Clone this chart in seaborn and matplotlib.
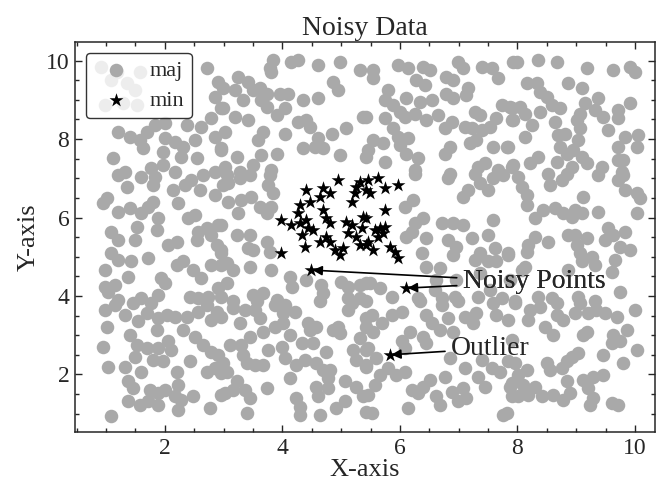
import numpy as np
import pandas as pd
import seaborn as sns
import matplotlib
matplotlib.use("Agg")
import matplotlib.pyplot as plt
from matplotlib.ticker import MultipleLocator

# majority class (gray circles)
maj_x = [
    2.71, 2.91, 2.85, 2.96, 2.79, 2.62, 2.37, 2.00, 1.83, 1.69, 1.21, 1.40, 1.57, 2.00, 2.17, 2.31, 2.51, 2.85,
    2.96, 1.63, 1.97, 2.28, 2.54, 1.12, 1.32, 1.77, 1.97, 2.17, 2.85, 0.92, 1.18, 1.57, 1.35, 1.49, 0.98, 1.29,
    1.52, 1.09,
    3.84, 3.79, 3.81, 4.15, 4.27, 4.61, 4.98, 5.32, 3.25, 3.42, 2.99, 3.19, 3.33, 3.50, 3.62, 3.73, 3.64, 3.73,
    3.96, 4.10, 4.35, 4.61, 4.86, 4.95, 2.99, 3.19, 3.42, 3.90, 4.04, 4.27, 4.41, 4.47, 4.04, 3.67, 3.59, 3.02,
    2.96, 4.61, 4.35, 4.55, 4.69, 4.84, 5.09, 4.98, 5.37, 5.43, 3.90, 3.64, 3.22, 3.50, 3.02, 3.81, 3.28,
    5.55, 5.55, 5.97, 6.14, 6.40, 6.51, 6.27, 6.43, 6.79, 6.91, 6.99, 7.08, 7.39, 7.56, 7.67, 7.93, 5.80, 5.74,
    5.89, 6.00, 6.08, 6.11, 6.34, 6.54, 6.25, 6.45, 6.65, 6.79, 6.91, 7.16, 7.13, 7.28, 7.36, 6.88, 6.77, 7.11,
    7.22, 7.39, 7.53, 7.64, 7.73, 7.90, 7.90, 5.43, 5.74, 5.89, 5.97, 6.14, 6.00, 6.11, 5.55, 5.72, 5.46, 5.74,
    6.31, 6.25, 6.85, 6.77, 7.19, 7.30, 7.59, 7.82, 7.33, 7.45, 7.67, 7.90, 6.85,
    7.99, 8.35, 8.67, 9.18, 9.63, 9.91, 10.00, 8.16, 8.33, 8.38, 8.50, 8.86, 9.09, 8.58, 8.72, 7.87, 8.04, 8.13,
    7.93, 8.38, 8.64, 9.15, 9.37, 9.32, 9.06, 9.01, 9.46, 9.71, 9.71, 9.91, 8.24, 8.13, 7.84, 8.69, 8.81, 8.72,
    9.06, 9.03, 8.95, 8.84, 9.54, 9.83, 10.05, 9.71, 10.03, 8.35, 8.21, 7.93, 8.67, 9.09, 9.18, 8.92, 9.43, 9.71,
    9.80, 9.77, 8.52,
    1.21, 1.35, 1.60, 1.83, 1.80, 2.14, 2.23, 2.34, 2.45, 2.59, 2.65, 2.85, 2.99, 1.01, 0.95, 1.21, 1.40, 1.60,
    1.72, 1.80, 1.89, 1.86, 1.52, 1.49, 1.09, 1.21, 1.09, 1.21, 1.43, 1.72, 2.06, 2.20, 2.20, 2.31, 2.40, 2.51,
    2.57, 2.71, 2.79, 2.91, 2.54, 2.88, 2.96, 2.79, 2.96, 2.48, 2.62, 2.91, 0.98, 1.38, 1.94, 2.00, 0.98, 1.15,
    1.04, 1.21, 1.60, 1.89, 2.42, 2.57, 2.74, 2.96,
    3.05, 3.28, 3.45, 3.79, 3.76, 3.84, 3.08, 3.08, 3.30, 3.47, 3.25, 3.62, 3.81, 3.73, 2.96, 3.22, 3.45, 3.73,
    3.79, 3.42, 3.50, 2.96, 3.05, 3.16, 3.05, 3.45, 3.81, 4.13, 4.16, 4.41, 3.50, 3.67, 3.90, 3.16, 4.66, 4.69,
    5.00, 5.12, 5.32, 5.43, 5.12, 5.32,
    6.25, 6.82, 7.28, 7.36, 7.50, 7.59, 7.76, 7.08, 7.16, 6.08, 6.23, 6.25, 6.40, 6.20, 6.11, 6.45, 6.71, 6.91,
    7.08, 6.82, 6.96, 6.91, 7.22, 7.50, 7.59, 7.62, 7.84, 6.37, 6.45, 6.68, 7.36, 7.27, 7.50, 7.64, 6.96, 7.36,
    5.49, 5.66, 5.86, 6.31, 6.59, 6.71, 6.93, 7.33, 7.53, 7.73, 7.87, 6.62,
    8.01, 8.07, 8.16, 8.16, 8.55, 8.75, 8.84, 9.37, 9.71, 9.80, 9.83, 10.03, 10.08, 9.12, 8.30, 8.44, 8.64, 8.78,
    8.92, 8.98, 9.09, 9.37, 10.03, 9.54, 9.63, 9.83, 9.49, 9.74, 9.91, 8.86, 8.98, 9.18, 9.01, 9.06, 9.09, 9.26,
    9.32, 8.52, 8.30, 8.18, 8.16, 7.84, 8.13, 8.07, 8.86, 9.66, 9.60, 9.74, 8.35, 8.58, 7.96, 9.03, 9.32,
    0.98, 1.15, 1.32, 1.46, 1.69, 1.77, 1.55, 1.89, 2.03, 2.17, 2.37, 2.57, 2.71, 2.79, 2.88, 1.86, 2.31, 1.01,
    1.40, 0.95, 1.52, 1.69, 1.89, 2.06, 2.11, 2.51, 2.65, 2.79, 2.91, 1.49, 1.80, 1.97, 2.42, 1.04, 1.32, 1.60,
    2.20, 2.23, 2.71, 2.85, 2.96, 1.38, 1.46, 1.74, 1.89, 2.00, 2.17, 2.28, 2.48, 1.38, 1.57, 1.72, 1.89, 2.23,
    2.77, 2.96, 1.09,
    3.16, 3.36, 3.53, 3.56, 3.87, 4.04, 4.01, 4.21, 4.64, 5.12, 5.18, 5.43, 2.96, 3.28, 3.62, 3.87, 4.01, 4.44,
    4.47, 4.58, 4.86, 4.95, 4.98, 5.43, 5.43, 3.67, 4.13, 3.45, 3.11, 3.30, 3.33, 3.76, 3.99, 4.33, 4.52, 4.75,
    5.32, 5.20, 5.26, 5.43, 5.43, 2.99, 3.05, 3.39, 3.53, 3.67, 4.04, 4.24, 4.38, 4.58, 4.69, 4.81, 4.78, 4.13,
    3.22, 3.02, 3.16, 3.36, 3.45, 3.73, 4.58, 4.61, 4.78, 5.06, 5.26, 5.37, 4.24, 4.30, 4.92, 5.06, 3.39, 4.30,
    4.64, 5.43,
    5.52, 5.69, 5.86, 6.03, 5.55, 5.46, 5.60, 5.43, 5.66, 5.80, 5.94, 6.08, 5.57, 5.46, 5.52, 6.17, 6.03, 6.08,
    6.34, 6.45, 6.54, 6.68, 6.40, 6.45, 6.71, 6.82, 6.91, 6.99, 7.11, 7.30, 7.25, 7.59, 7.64, 7.84, 6.85, 7.11,
    6.77, 6.51, 6.40, 6.20, 6.31, 6.62, 6.68, 6.14, 6.88, 7.08, 6.99, 7.13, 7.39, 7.56, 7.33, 7.45, 7.70, 7.84,
    7.90, 7.90, 7.76, 7.90,
    7.96, 8.21, 8.18, 8.38, 8.67, 8.67, 8.78, 8.98, 9.06, 9.20, 9.34, 9.49, 9.69, 10.00, 8.47, 8.61, 9.12, 9.18,
    9.63, 9.86, 9.60, 9.74, 10.03, 9.46, 9.80, 8.50, 8.55, 8.84, 8.92, 9.03, 8.75, 7.96, 8.16, 8.01, 7.87, 8.10,
    8.30, 8.01, 8.18, 8.41, 8.61, 8.78, 8.89, 8.84, 9.12, 9.29, 9.46, 9.20, 9.29, 9.23, 9.60, 9.71, 7.82,
]
maj_y = [
    9.80, 9.46, 9.08, 8.78, 8.53, 8.31, 8.36, 8.40, 8.36, 8.19, 8.19, 8.06, 7.97, 8.02, 7.93, 7.81, 7.97, 8.06,
    7.72, 7.76, 7.68, 7.55, 7.51, 7.51, 7.17, 7.25, 7.34, 7.17, 7.17, 9.84, 9.72, 9.72, 9.42, 9.25, 8.87, 8.91,
    8.87, 9.50,
    10.01, 9.80, 9.72, 9.97, 10.01, 9.89, 9.97, 9.76, 9.59, 9.46, 9.29, 9.25, 8.99, 9.25, 9.29, 9.16, 8.99, 8.82,
    9.16, 9.16, 8.99, 9.04, 9.46, 9.25, 8.78, 8.57, 8.48, 8.61, 8.78, 8.44, 8.48, 8.31, 8.14, 8.19, 7.97, 8.19,
    7.76, 8.02, 7.76, 7.81, 7.76, 8.14, 8.27, 7.59, 8.57, 7.55, 7.63, 7.59, 7.55, 7.34, 7.29, 7.21, 7.17,
    9.76, 9.55, 9.89, 9.80, 9.84, 9.76, 9.50, 9.38, 9.59, 9.50, 9.97, 9.80, 9.84, 9.80, 9.55, 9.97, 9.25, 8.99,
    8.87, 8.70, 8.57, 9.04, 8.95, 8.99, 8.65, 8.48, 8.61, 9.16, 9.04, 9.29, 9.12, 8.70, 8.61, 8.44, 8.27, 8.31,
    8.27, 8.23, 8.31, 8.53, 8.87, 8.78, 8.48, 8.57, 8.53, 8.27, 8.06, 8.02, 7.85, 7.63, 7.97, 7.89, 7.72, 7.42,
    7.51, 7.21, 7.81, 7.63, 7.89, 7.97, 7.81, 7.81, 7.30, 7.38, 7.21, 7.30, 7.12,
    9.97, 10.01, 9.97, 9.80, 9.76, 9.84, 9.72, 9.42, 9.42, 9.21, 9.08, 9.42, 9.29, 8.87, 8.78, 8.82, 8.82, 8.65,
    8.48, 8.70, 8.44, 8.91, 9.04, 8.74, 8.65, 8.48, 8.57, 8.74, 8.53, 8.91, 8.36, 8.06, 7.81, 8.10, 8.14, 7.81,
    8.27, 7.97, 7.72, 7.63, 8.23, 8.06, 8.10, 7.81, 7.81, 7.55, 7.38, 7.34, 7.42, 7.55, 7.38, 7.29, 7.29, 7.46,
    7.46, 7.17, 7.12,
    7.08, 6.79, 7.04, 7.04, 6.83, 6.70, 6.36, 6.83, 6.96, 6.70, 7.08, 6.57, 6.83, 6.49, 6.36, 6.15, 6.23, 6.11,
    6.28, 6.40, 5.98, 5.68, 5.77, 5.43, 5.64, 5.43, 5.09, 4.92, 4.88, 4.96, 5.30, 5.38, 4.79, 4.88, 5.98, 6.06,
    5.64, 5.72, 5.55, 5.81, 5.43, 5.30, 5.09, 4.79, 4.79, 4.66, 4.45, 4.20, 4.66, 4.49, 4.45, 4.32, 4.24, 4.28,
    4.11, 3.90, 3.94, 4.02, 3.98, 3.94, 3.98, 3.98,
    7.08, 7.00, 7.08, 7.08, 6.83, 6.62, 6.87, 6.40, 6.45, 6.53, 6.11, 6.28, 6.28, 6.11, 5.81, 5.55, 5.55, 5.38,
    5.13, 5.21, 5.17, 5.17, 4.83, 4.66, 4.32, 4.75, 4.66, 4.49, 4.24, 4.41, 4.02, 4.07, 3.90, 3.86, 4.28, 4.07,
    4.36, 4.24, 4.28, 4.32, 3.94, 3.94,
    7.12, 7.00, 7.12, 6.87, 6.70, 7.00, 7.08, 6.53, 6.70, 6.28, 6.45, 5.85, 5.98, 5.64, 5.51, 5.47, 5.85, 5.85,
    5.81, 5.43, 5.26, 5.04, 5.47, 5.55, 5.94, 5.21, 5.04, 5.09, 4.75, 4.71, 5.09, 4.92, 4.88, 4.88, 4.41, 4.58,
    4.32, 4.20, 3.98, 3.94, 4.15, 3.94, 3.98, 3.98, 4.15, 3.94, 4.41, 4.41,
    7.04, 6.79, 6.57, 6.32, 6.83, 6.96, 7.12, 7.08, 6.96, 7.08, 6.70, 6.62, 6.49, 6.53, 5.98, 6.19, 6.23, 6.11,
    6.02, 6.19, 6.11, 6.15, 6.11, 5.72, 5.55, 5.64, 5.43, 5.26, 5.17, 5.55, 5.55, 5.47, 5.30, 5.09, 4.88, 5.00,
    4.79, 5.38, 5.51, 5.30, 5.13, 5.09, 4.75, 4.66, 4.66, 4.92, 4.62, 4.11, 3.98, 3.94, 3.86, 3.98, 3.86,
    3.64, 3.77, 3.52, 3.81, 3.56, 3.81, 3.35, 3.43, 3.52, 3.47, 3.47, 3.60, 3.77, 3.39, 3.60, 3.13, 3.13, 3.22,
    3.01, 2.71, 2.75, 2.67, 2.67, 2.84, 2.63, 2.96, 2.75, 2.58, 2.50, 2.45, 2.37, 2.33, 2.33, 2.20, 2.20, 2.07,
    2.07, 1.73, 2.07, 2.16, 2.03, 1.82, 1.65, 1.60, 1.52, 1.60, 1.44, 1.35, 1.44, 1.31, 1.22, 1.31, 1.22, 1.10,
    1.14, 1.48, 0.93,
    3.69, 3.64, 3.64, 3.86, 3.77, 3.77, 3.56, 3.60, 3.86, 3.64, 3.81, 3.86, 3.47, 3.30, 3.43, 3.22, 3.30, 3.30,
    3.13, 3.22, 3.13, 3.22, 3.05, 3.43, 3.22, 3.09, 3.01, 2.96, 2.75, 2.75, 2.50, 2.63, 2.71, 2.79, 2.79, 2.58,
    2.92, 2.63, 2.37, 2.63, 2.20, 2.28, 2.07, 2.28, 2.24, 2.24, 2.41, 2.24, 2.37, 2.28, 2.11, 2.11, 1.90, 1.90,
    1.82, 1.52, 1.60, 1.60, 1.39, 1.65, 1.69, 1.44, 1.65, 1.82, 1.69, 1.44, 1.39, 1.18, 1.14, 1.31, 1.01, 0.97,
    0.97, 1.05,
    3.52, 3.30, 3.52, 3.60, 3.09, 2.67, 2.41, 2.24, 1.99, 2.16, 1.99, 2.07, 1.73, 1.48, 1.01, 3.09, 2.84, 2.67,
    3.86, 3.52, 3.30, 3.13, 2.96, 2.79, 3.77, 3.43, 3.09, 3.86, 3.47, 3.56, 3.30, 3.81, 3.52, 3.39, 2.41, 2.16,
    1.94, 1.86, 1.69, 1.60, 1.52, 1.44, 1.22, 1.14, 1.56, 1.65, 1.31, 1.39, 2.37, 2.16, 1.94, 1.69, 2.07, 2.33,
    1.78, 1.44, 0.97, 2.88,
    3.81, 3.64, 3.39, 3.73, 3.81, 3.52, 3.39, 3.56, 3.81, 3.56, 3.64, 3.56, 3.47, 3.64, 3.22, 3.01, 3.01, 3.09,
    3.01, 3.13, 2.79, 2.84, 2.63, 2.50, 2.28, 2.28, 2.11, 2.33, 2.45, 2.54, 2.16, 2.28, 2.11, 1.99, 1.69, 1.73,
    1.69, 1.44, 1.48, 1.44, 1.48, 1.35, 1.52, 1.82, 1.86, 1.94, 1.99, 1.65, 1.39, 1.22, 1.27, 1.22, 1.01,
]

# minority class (black stars)
min_x = [
    4.95, 4.41, 4.69, 4.81, 4.64, 4.47, 4.30, 4.69, 5.18, 5.26, 5.32, 5.43, 5.23, 4.27, 3.98, 4.15, 4.30, 4.41,
    4.44, 4.52, 4.33, 4.75, 4.81, 5.09, 5.18, 5.37, 5.35, 5.12, 5.26, 4.75, 4.81, 4.64, 4.38, 4.89, 4.98, 5.03,
    5.32, 5.43, 3.98, 4.49,
    5.46, 5.63, 5.74, 5.49, 5.97, 5.74, 5.43, 5.57, 5.66, 5.72, 5.63, 5.74, 5.46, 5.55, 5.83, 5.91, 5.97, 6.11,
    5.83,
]
min_y = [
    6.96, 6.70, 6.74, 6.62, 6.53, 6.40, 6.32, 6.19, 6.40, 6.79, 6.91, 6.70, 6.62, 6.11, 5.94, 5.81, 5.85, 5.94,
    5.72, 5.68, 5.55, 5.98, 5.85, 5.89, 5.81, 6.02, 5.72, 5.60, 5.51, 5.51, 5.38, 5.38, 5.26, 5.17, 5.04, 5.21,
    5.30, 5.30, 5.09, 4.66,
    6.96, 7.00, 6.74, 6.62, 6.83, 6.19, 5.98, 5.68, 5.72, 5.60, 5.51, 5.77, 5.38, 5.17, 5.26, 5.13, 4.96, 4.20,
    2.50,
]

noisy_pts = [(4.49, 4.66), (6.11, 4.20)]
outlier_pt = (5.83, 2.50)

maj = pd.DataFrame({"x": maj_x, "y": maj_y})
mnr = pd.DataFrame({"x": min_x, "y": min_y})

sns.set_style("ticks")
plt.rcParams["font.family"] = ["Liberation Serif", "DejaVu Serif"]

fig = plt.figure(figsize=(6.57, 4.86), dpi=100)
ax = fig.add_axes([0.114, 0.111, 0.883, 0.803])

sns.scatterplot(data=maj, x="x", y="y", color="#a9a9a9", s=95, linewidth=0,
                label="maj", ax=ax, zorder=2)
sns.scatterplot(data=mnr, x="x", y="y", color="black", marker="*", s=110,
                linewidth=0, label="min", ax=ax, zorder=3)

for pt in noisy_pts:
    ax.annotate("Noisy Points", xy=pt, xytext=(7.07, 4.36), fontsize=20,
                va="center", ha="left",
                arrowprops=dict(arrowstyle="-|>", color="black", lw=1.2,
                                mutation_scale=14, shrinkA=2, shrinkB=1))
ax.annotate("Outlier", xy=outlier_pt, xytext=(6.87, 2.66), fontsize=20,
            va="center", ha="left",
            arrowprops=dict(arrowstyle="-|>", color="black", lw=1.2,
                            mutation_scale=14, shrinkA=2, shrinkB=1))

ax.set_xlim(0.47, 10.34)
ax.set_ylim(0.53, 10.48)
ax.xaxis.set_major_locator(MultipleLocator(2))
ax.yaxis.set_major_locator(MultipleLocator(2))
ax.xaxis.set_minor_locator(MultipleLocator(0.5))
ax.yaxis.set_minor_locator(MultipleLocator(0.5))
ax.tick_params(which="both", direction="in", top=True, right=True, labelsize=17, width=1)
ax.tick_params(which="major", length=5, pad=4)
ax.tick_params(which="minor", length=3)
for sp in ax.spines.values():
    sp.set_linewidth(1.1)

ax.set_title("Noisy Data", fontsize=20, pad=5)
ax.set_xlabel("X-axis", fontsize=19, labelpad=0)
ax.set_ylabel("Y-axis", fontsize=19, labelpad=4)

leg = ax.legend(loc="upper left", fontsize=16, frameon=True, fancybox=True,
                edgecolor="black", framealpha=0.8, handletextpad=0.5,
                borderpad=0.35, labelspacing=0.4, markerscale=1.0)
leg.get_frame().set_linewidth(1.0)

fig.savefig("out.png", dpi=100)
